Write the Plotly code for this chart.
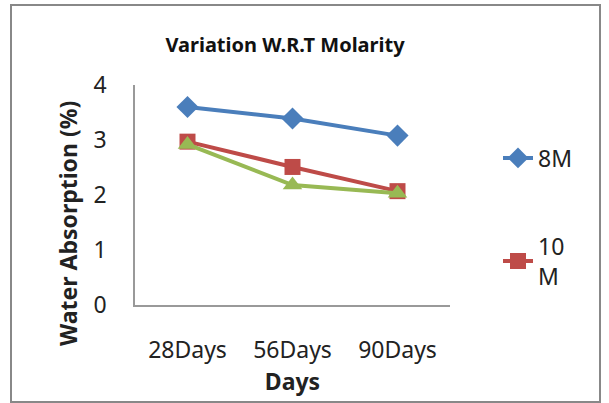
import plotly.graph_objects as go

categories = ["28Days", "56Days", "90Days"]
s8m = [3.6, 3.39, 3.08]
s10m = [2.97, 2.51, 2.07]
s12m = [2.92, 2.18, 2.03]
yticks = [0, 1, 2, 3, 4]

W, H = 609, 403
L, R, T, B = 135, 450, 85, 305
pw, ph = R - L, B - T

font = "Noto Sans, Liberation Sans, sans-serif"

fig = go.Figure()
fig.add_trace(go.Scatter(x=categories, y=s8m, name="8M", mode="lines+markers",
                         line=dict(color="#4A7EBB", width=4),
                         marker=dict(symbol="diamond", size=17, color="#4A7EBB"),
                         legend="legend"))
fig.add_trace(go.Scatter(x=categories, y=s10m, name="10<br>M", mode="lines+markers",
                         line=dict(color="#BE4B48", width=4),
                         marker=dict(symbol="square", size=16, color="#BE4B48"),
                         legend="legend2"))
fig.add_trace(go.Scatter(x=categories, y=s12m, name="12M", mode="lines+markers",
                         line=dict(color="#98B954", width=4),
                         marker=dict(symbol="triangle-up", size=17, color="#98B954"),
                         showlegend=False))

def px(x):
    return (x - L) / pw

def py(y):
    return (B - y) / ph

fig.update_layout(
    width=W, height=H,
    margin=dict(l=L, r=W - R, t=T, b=H - B),
    paper_bgcolor="white", plot_bgcolor="white",
    font=dict(family=font, color="#222"),
    title=dict(text="<b>Variation W.R.T Molarity</b>", x=285 / W, xanchor="center",
               y=1 - 45 / H, yanchor="middle", font=dict(size=20, color="#111")),
    xaxis=dict(showline=True, linecolor="#999", linewidth=1.5, showgrid=False,
               ticks="", tickfont=dict(size=23), range=[-0.5, 2.5],
               ticklabelstandoff=24,
               title=dict(text="<b>Days</b>", font=dict(size=23), standoff=8)),
    yaxis=dict(showline=True, linecolor="#999", linewidth=1.5, showgrid=False,
               range=[0, 4], tickvals=yticks, ticks="", tickfont=dict(size=23),
               zeroline=False, ticklabelstandoff=22),
    legend=dict(x=px(498), y=py(158), xanchor="left", yanchor="middle",
                font=dict(size=23), bgcolor="rgba(0,0,0,0)", itemwidth=30),
    legend2=dict(x=px(498), y=py(261), xanchor="left", yanchor="middle",
                 font=dict(size=23), bgcolor="rgba(0,0,0,0)", itemwidth=30),
    annotations=[dict(text="<b>Water Absorption (%)</b>", textangle=-90,
                      xref="paper", yref="paper", x=px(68), y=py(224),
                      xanchor="center", yanchor="middle", showarrow=False,
                      font=dict(size=23, color="#222"))],
    shapes=[dict(type="rect", xref="paper", yref="paper",
                 x0=px(11), x1=px(600), y0=py(402), y1=py(5),
                 line=dict(color="#888", width=2))],
)

fig.write_html("out.html")
